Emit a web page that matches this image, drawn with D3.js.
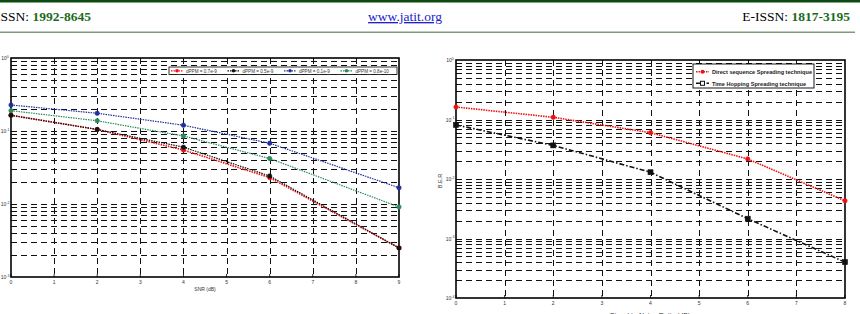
<!DOCTYPE html>
<html>
<head>
<meta charset="utf-8">
<script src="https://cdn.jsdelivr.net/npm/d3@7"></script>
<style>
  html, body { margin: 0; padding: 0; background: #fff; overflow: hidden; }
  svg { display: block; }
</style>
</head>
<body>
<div id="container"></div>
<script>
// header
const issn = '1992-8645';
const eissn = '1817-3195';
const site = 'www.jatit.org';

// left chart: dPPM variants
const snrLeft = [0, 2, 4, 6, 9];
const ber07 = [0.164, 0.105, 0.055, 0.023, 0.0025];
const ber05 = [0.164, 0.105, 0.060, 0.0242, 0.0025];
const ber01 = [0.227, 0.175, 0.12, 0.068, 0.0167];
const ber08 = [0.19, 0.138, 0.0855, 0.042, 0.0091];
const leftNames = ['dPPM = 0.7e-9', 'dPPM = 0.5e-9', 'dPPM = 0.1e-9', 'dPPM = 0.8e-10'];
const leftTicksX = [0, 1, 2, 3, 4, 5, 6, 7, 8, 9];
const leftExps = [0, -1, -2, -3];

// right chart: spreading techniques
const snrRight = [0, 2, 4, 6, 8];
const berDS = [0.162, 0.109, 0.060, 0.0217, 0.0043];
const berTH = [0.081, 0.0367, 0.013, 0.00215, 0.0004];
const rightNames = ['Direct sequence Spreading technique', 'Time Hopping Spreading technique'];
const rightTicksX = [0, 1, 2, 3, 4, 5, 6, 7, 8];
const rightExps = [0, -1, -2, -3, -4];

const W = 860, H = 314;
const svg = d3.select('#container').append('svg')
    .attr('width', W).attr('height', H)
    .attr('font-family', 'Liberation Sans, Arial, sans-serif');

// ---- page header ----
svg.append('rect').attr('x', 0).attr('y', 0).attr('width', W).attr('height', 2.5).attr('fill', '#0d4a12');
svg.append('rect').attr('x', 0).attr('y', 31.5).attr('width', 855).attr('height', 1.5).attr('fill', '#7d9a7d');

const hdr = svg.append('g').attr('font-family', 'Liberation Serif, Times New Roman, serif').attr('font-size', 13.5);
const t1 = hdr.append('text').attr('x', -4).attr('y', 21);
t1.append('tspan').attr('fill', '#000').text('ISSN: ');
t1.append('tspan').attr('fill', '#1c6b1c').attr('font-weight', 'bold').text(issn);
hdr.append('text').attr('x', 405).attr('y', 21).attr('text-anchor', 'middle')
    .attr('fill', '#2222cc').attr('text-decoration', 'underline').text(site);
const t3 = hdr.append('text').attr('x', 850).attr('y', 21).attr('text-anchor', 'end');
t3.append('tspan').attr('fill', '#000').text('E-ISSN: ');
t3.append('tspan').attr('fill', '#1c6b1c').attr('font-weight', 'bold').text(eissn);

// ---- chart drawing ----
function drawChart(cfg) {
    const x = d3.scaleLinear().domain(cfg.xDomain).range([cfg.left, cfg.right]);
    const y = d3.scaleLog().domain([Math.pow(10, cfg.exps[cfg.exps.length - 1]), 1]).range([cfg.bottom, cfg.top]);
    const g = svg.append('g');

    // horizontal grid: major + minor decades
    const gridVals = [];
    cfg.exps.slice(1).forEach(e => {
        for (let k = 1; k <= 9; k++) gridVals.push(k * Math.pow(10, e));
    });
    g.append('g').selectAll('line')
        .data(gridVals.filter(v => v < 1 && v > Math.pow(10, cfg.exps[cfg.exps.length - 1])))
        .join('line')
        .attr('x1', cfg.left).attr('x2', cfg.right)
        .attr('y1', d => Math.round(y(d)) + 0.5).attr('y2', d => Math.round(y(d)) + 0.5)
        .attr('stroke', '#111').attr('stroke-width', 1)
        .attr('stroke-dasharray', '6,4');

    // vertical grid
    g.append('g').selectAll('line')
        .data(cfg.xTicks.slice(1, -1))
        .join('line')
        .attr('x1', d => Math.round(x(d)) + 0.5).attr('x2', d => Math.round(x(d)) + 0.5)
        .attr('y1', cfg.top).attr('y2', cfg.bottom)
        .attr('stroke', '#111').attr('stroke-width', 1)
        .attr('stroke-dasharray', '6,4');

    // axes box
    g.append('rect')
        .attr('x', cfg.left).attr('y', cfg.top)
        .attr('width', cfg.right - cfg.left).attr('height', cfg.bottom - cfg.top)
        .attr('fill', 'none').attr('stroke', '#000').attr('stroke-width', 1.6);

    // x ticks (inside)
    g.append('g').selectAll('line')
        .data(cfg.xTicks)
        .join('line')
        .attr('x1', d => x(d)).attr('x2', d => x(d))
        .attr('y1', cfg.bottom).attr('y2', cfg.bottom - 3)
        .attr('stroke', '#000').attr('stroke-width', 0.8);

    g.append('g').selectAll('text')
        .data(cfg.xTicks)
        .join('text')
        .attr('x', d => x(d)).attr('y', cfg.bottom + 7)
        .attr('text-anchor', 'middle').attr('font-size', 5)
        .attr('fill', '#333')
        .text(d => d);

    // y tick labels 10^e
    const yl = g.append('g').selectAll('text')
        .data(cfg.exps)
        .join('text')
        .attr('x', cfg.left - 6).attr('y', d => y(Math.pow(10, d)) + 2)
        .attr('text-anchor', 'middle').attr('font-size', 5).attr('fill', '#333');
    yl.append('tspan').text('10');
    yl.append('tspan').attr('dy', -2.5).attr('font-size', 3.5).text(d => d);

    // series
    cfg.series.forEach(s => {
        const pts = cfg.xs.map((v, i) => [v, s.values[i]]);
        g.append('path')
            .datum(pts)
            .attr('fill', 'none')
            .attr('stroke', s.color)
            .attr('stroke-width', s.width)
            .attr('stroke-dasharray', s.dash)
            .attr('d', d3.line().x(d => x(d[0])).y(d => y(d[1])));
        const mk = g.append('g').selectAll('.m').data(pts).join(s.marker === 'square' ? 'rect' : 'circle');
        if (s.marker === 'square') {
            mk.attr('x', d => x(d[0]) - 2.5).attr('y', d => y(d[1]) - 2.5)
              .attr('width', 5).attr('height', 5);
        } else {
            mk.attr('cx', d => x(d[0])).attr('cy', d => y(d[1])).attr('r', 2.2);
        }
        mk.attr('fill', s.color).attr('stroke', s.color).attr('stroke-width', 0.6);
    });

    return { g, x, y };
}

// left chart
const left = drawChart({
    left: 11, right: 399, top: 58, bottom: 277,
    xDomain: [0, 9], xTicks: leftTicksX, exps: leftExps, xs: snrLeft,
    series: [
        { values: ber07, color: '#ee1111', dash: '1.5,1', width: 1.6, marker: 'circle' },
        { values: ber05, color: '#111111', dash: '1.5,1', width: 1.2, marker: 'circle' },
        { values: ber01, color: '#1f2f9f', dash: '1.5,1', width: 1.2, marker: 'circle' },
        { values: ber08, color: '#2a8a5a', dash: '1.5,1', width: 1.2, marker: 'circle' }
    ]
});
left.g.append('text').attr('x', 205).attr('y', 291).attr('text-anchor', 'middle')
    .attr('font-size', 5).attr('fill', '#333').text('SNR (dB)');

// left legend
const legL = left.g.append('g');
legL.append('rect').attr('x', 169).attr('y', 67).attr('width', 228).attr('height', 7.5)
    .attr('fill', '#fff').attr('stroke', '#000').attr('stroke-width', 0.8);
const leftColors = ['#ee1111', '#111111', '#1f2f9f', '#2a8a5a'];
leftNames.forEach((name, i) => {
    const x0 = 171 + i * 56.5;
    legL.append('line').attr('x1', x0).attr('x2', x0 + 12).attr('y1', 70.8).attr('y2', 70.8)
        .attr('stroke', leftColors[i]).attr('stroke-width', 1.2).attr('stroke-dasharray', '1.5,1');
    legL.append('circle').attr('cx', x0 + 6).attr('cy', 70.8).attr('r', 1.8).attr('fill', leftColors[i]);
    legL.append('text').attr('x', x0 + 15).attr('y', 72.5).attr('font-size', 4.6)
        .attr('fill', '#333').text(name);
});

// right chart
const right = drawChart({
    left: 456, right: 845, top: 60, bottom: 298,
    xDomain: [0, 8], xTicks: rightTicksX, exps: rightExps, xs: snrRight,
    series: [
        { values: berDS, color: '#ee1111', dash: '1.5,1', width: 1.6, marker: 'circle' },
        { values: berTH, color: '#111111', dash: '5,2,1.5,2', width: 1.6, marker: 'square' }
    ]
});
right.g.append('text')
    .attr('transform', 'translate(442,181) rotate(-90)')
    .attr('text-anchor', 'middle').attr('font-size', 5.5).attr('fill', '#333').text('B.E.R');
right.g.append('text').attr('x', 650).attr('y', 318).attr('text-anchor', 'middle')
    .attr('font-size', 7).attr('fill', '#333').text('Signal to Noise Ratio (dB)');

// right legend
const legR = right.g.append('g');
legR.append('rect').attr('x', 693).attr('y', 64).attr('width', 121).attr('height', 24)
    .attr('fill', '#fff').attr('stroke', '#000').attr('stroke-width', 0.9);
const rightColors = ['#ee1111', '#111111'];
const rightDash = ['1.5,1', '5,2,1.5,2'];
rightNames.forEach((name, i) => {
    const yy = 71.7 + i * 11.6;
    legR.append('line').attr('x1', 696).attr('x2', 709).attr('y1', yy).attr('y2', yy)
        .attr('stroke', rightColors[i]).attr('stroke-width', 1.5).attr('stroke-dasharray', rightDash[i]);
    if (i === 0) {
        legR.append('circle').attr('cx', 702.5).attr('cy', yy).attr('r', 2).attr('fill', rightColors[i]);
    } else {
        legR.append('rect').attr('x', 700.5).attr('y', yy - 2).attr('width', 4).attr('height', 4)
            .attr('fill', '#fff').attr('stroke', rightColors[i]).attr('stroke-width', 1);
    }
    legR.append('text').attr('x', 712).attr('y', yy + 2.2).attr('font-size', 6)
        .attr('font-weight', 'bold').attr('fill', '#222')
        .attr('textLength', i === 0 ? 100 : 94).attr('lengthAdjust', 'spacingAndGlyphs')
        .text(name);
});
</script>
</body>
</html>
